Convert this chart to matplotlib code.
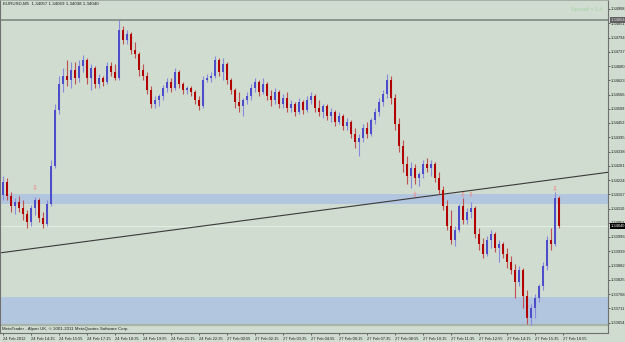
import matplotlib
matplotlib.use('Agg')
import matplotlib.pyplot as plt

plt.rcParams['font.family'] = ['Liberation Sans', 'DejaVu Sans']

# ---------------- data (EURUSD candles) ----------------
opens = [1.34164, 1.34216, 1.34160, 1.34120, 1.34136, 1.34112, 1.34088, 1.34056, 1.34112, 1.34144,
         1.34072, 1.34048, 1.34128, 1.34280, 1.34504, 1.34608, 1.34640, 1.34624, 1.34664, 1.34632,
         1.34680, 1.34704, 1.34632, 1.34672, 1.34608, 1.34632, 1.34616, 1.34680, 1.34656, 1.34632,
         1.34824, 1.34784, 1.34808, 1.34744, 1.34728, 1.34664, 1.34640, 1.34584, 1.34528, 1.34544,
         1.34560, 1.34592, 1.34616, 1.34592, 1.34656, 1.34608, 1.34584, 1.34592, 1.34576, 1.34544,
         1.34520, 1.34624, 1.34632, 1.34640, 1.34704, 1.34656, 1.34688, 1.34624, 1.34584, 1.34536,
         1.34520, 1.34544, 1.34560, 1.34592, 1.34616, 1.34576, 1.34608, 1.34560, 1.34544, 1.34576,
         1.34528, 1.34552, 1.34512, 1.34528, 1.34496, 1.34536, 1.34504, 1.34544, 1.34560, 1.34512,
         1.34496, 1.34520, 1.34480, 1.34496, 1.34456, 1.34480, 1.34440, 1.34456, 1.34408, 1.34376,
         1.34392, 1.34432, 1.34408, 1.34464, 1.34496, 1.34536, 1.34568, 1.34624, 1.34552, 1.34448,
         1.34360, 1.34288, 1.34240, 1.34272, 1.34232, 1.34248, 1.34288, 1.34272, 1.34288, 1.34232,
         1.34184, 1.34120, 1.34040, 1.33984, 1.34024, 1.34120, 1.34064, 1.34096, 1.34112, 1.34008,
         1.33968, 1.33928, 1.33984, 1.34008, 1.33952, 1.33968, 1.33928, 1.33896, 1.33864, 1.33816,
         1.33864, 1.33760, 1.33672, 1.33712, 1.33752, 1.33800, 1.33880, 1.33984, 1.33968, 1.34152]
highs = [1.34240, 1.34232, 1.34176, 1.34152, 1.34160, 1.34144, 1.34104, 1.34124, 1.34156, 1.34152,
         1.34096, 1.34144, 1.34304, 1.34528, 1.34640, 1.34672, 1.34704, 1.34696, 1.34696, 1.34704,
         1.34724, 1.34712, 1.34688, 1.34680, 1.34648, 1.34640, 1.34696, 1.34696, 1.34688, 1.34864,
         1.34840, 1.34824, 1.34816, 1.34776, 1.34736, 1.34688, 1.34656, 1.34600, 1.34560, 1.34568,
         1.34604, 1.34632, 1.34632, 1.34672, 1.34664, 1.34616, 1.34600, 1.34600, 1.34584, 1.34560,
         1.34640, 1.34648, 1.34656, 1.34720, 1.34712, 1.34712, 1.34696, 1.34632, 1.34592, 1.34576,
         1.34552, 1.34576, 1.34608, 1.34632, 1.34624, 1.34632, 1.34616, 1.34584, 1.34592, 1.34584,
         1.34568, 1.34576, 1.34544, 1.34536, 1.34552, 1.34544, 1.34560, 1.34576, 1.34568, 1.34544,
         1.34528, 1.34528, 1.34512, 1.34504, 1.34496, 1.34488, 1.34472, 1.34464, 1.34432, 1.34408,
         1.34448, 1.34456, 1.34472, 1.34512, 1.34552, 1.34584, 1.34648, 1.34640, 1.34568, 1.34472,
         1.34384, 1.34320, 1.34296, 1.34288, 1.34256, 1.34304, 1.34312, 1.34304, 1.34296, 1.34256,
         1.34200, 1.34144, 1.34104, 1.34040, 1.34128, 1.34152, 1.34112, 1.34136, 1.34120, 1.34032,
         1.33992, 1.34000, 1.34024, 1.34016, 1.33984, 1.33976, 1.33952, 1.33920, 1.33888, 1.33880,
         1.33872, 1.33784, 1.33728, 1.33768, 1.33808, 1.33896, 1.34000, 1.34032, 1.34176, 1.34160]
lows = [1.34144, 1.34144, 1.34096, 1.34088, 1.34096, 1.34064, 1.34032, 1.34040, 1.34084, 1.34056,
        1.34032, 1.34040, 1.34120, 1.34272, 1.34488, 1.34576, 1.34600, 1.34592, 1.34608, 1.34616,
        1.34656, 1.34608, 1.34584, 1.34592, 1.34592, 1.34600, 1.34608, 1.34640, 1.34624, 1.34624,
        1.34768, 1.34768, 1.34728, 1.34712, 1.34640, 1.34624, 1.34568, 1.34512, 1.34512, 1.34520,
        1.34544, 1.34576, 1.34576, 1.34584, 1.34592, 1.34568, 1.34568, 1.34560, 1.34528, 1.34504,
        1.34512, 1.34616, 1.34616, 1.34632, 1.34640, 1.34624, 1.34608, 1.34568, 1.34512, 1.34496,
        1.34480, 1.34528, 1.34544, 1.34576, 1.34560, 1.34568, 1.34544, 1.34520, 1.34528, 1.34512,
        1.34512, 1.34496, 1.34496, 1.34480, 1.34488, 1.34488, 1.34496, 1.34528, 1.34496, 1.34480,
        1.34472, 1.34464, 1.34456, 1.34440, 1.34448, 1.34424, 1.34424, 1.34392, 1.34352, 1.34320,
        1.34376, 1.34392, 1.34400, 1.34448, 1.34480, 1.34520, 1.34552, 1.34528, 1.34424, 1.34336,
        1.34256, 1.34208, 1.34192, 1.34208, 1.34200, 1.34232, 1.34256, 1.34240, 1.34216, 1.34168,
        1.34104, 1.34024, 1.33968, 1.33960, 1.34016, 1.34048, 1.34048, 1.34072, 1.33992, 1.33944,
        1.33912, 1.33920, 1.33952, 1.33936, 1.33896, 1.33912, 1.33872, 1.33848, 1.33752, 1.33800,
        1.33712, 1.33648, 1.33644, 1.33672, 1.33736, 1.33784, 1.33864, 1.33944, 1.33960, 1.34032]
closes = [1.34216, 1.34160, 1.34120, 1.34136, 1.34112, 1.34088, 1.34056, 1.34112, 1.34144, 1.34072,
          1.34048, 1.34128, 1.34280, 1.34504, 1.34608, 1.34640, 1.34624, 1.34664, 1.34632, 1.34680,
          1.34704, 1.34632, 1.34672, 1.34608, 1.34632, 1.34616, 1.34680, 1.34656, 1.34632, 1.34824,
          1.34784, 1.34808, 1.34744, 1.34728, 1.34664, 1.34640, 1.34584, 1.34528, 1.34544, 1.34560,
          1.34592, 1.34616, 1.34592, 1.34656, 1.34608, 1.34584, 1.34592, 1.34576, 1.34544, 1.34520,
          1.34624, 1.34632, 1.34640, 1.34704, 1.34656, 1.34688, 1.34624, 1.34584, 1.34536, 1.34520,
          1.34544, 1.34560, 1.34592, 1.34616, 1.34576, 1.34608, 1.34560, 1.34544, 1.34576, 1.34528,
          1.34552, 1.34512, 1.34528, 1.34496, 1.34536, 1.34504, 1.34544, 1.34560, 1.34512, 1.34496,
          1.34520, 1.34480, 1.34496, 1.34456, 1.34480, 1.34440, 1.34456, 1.34408, 1.34376, 1.34392,
          1.34432, 1.34408, 1.34464, 1.34496, 1.34536, 1.34568, 1.34624, 1.34552, 1.34448, 1.34360,
          1.34288, 1.34240, 1.34272, 1.34232, 1.34248, 1.34288, 1.34272, 1.34288, 1.34232, 1.34184,
          1.34120, 1.34040, 1.33984, 1.34024, 1.34120, 1.34064, 1.34096, 1.34112, 1.34008, 1.33968,
          1.33928, 1.33984, 1.34008, 1.33952, 1.33968, 1.33928, 1.33896, 1.33864, 1.33816, 1.33864,
          1.33760, 1.33672, 1.33712, 1.33752, 1.33800, 1.33880, 1.33984, 1.33968, 1.34152, 1.34040]

time_labels = ["24 Feb 2012", "24 Feb 14:15", "24 Feb 15:55", "24 Feb 17:15", "24 Feb 18:35",
               "24 Feb 19:55", "24 Feb 21:15", "24 Feb 22:35", "27 Feb 00:55", "27 Feb 02:15",
               "27 Feb 03:35", "27 Feb 04:55", "27 Feb 06:15", "27 Feb 07:35", "27 Feb 08:55",
               "27 Feb 10:15", "27 Feb 11:35", "27 Feb 12:55", "27 Feb 14:15", "27 Feb 15:35",
               "27 Feb 16:55"]
time_label_bars = [0, 7, 14, 21, 28, 35, 42, 49, 56, 63, 70, 77, 84, 91, 98, 105, 112, 119, 126, 133, 140]

price_ticks = [1.34908, 1.34851, 1.34794, 1.34737, 1.34680, 1.34623, 1.34566, 1.34509, 1.34452,
               1.34395, 1.34338, 1.34281, 1.34224, 1.34167, 1.34110, 1.34053, 1.33996, 1.33939,
               1.33882, 1.33825, 1.33768, 1.33711, 1.33654]

header_text = "EURUSD,M5  1.34057 1.34069 1.34038 1.34040"
spread_text = "Spread = 1.4"
copyright_text = "MetaTrader - Alpari UK, \u00a9 2001-2011 MetaQuotes Software Corp."

top_line = 1.34864          # horizontal line at the high
low_line = 1.33644          # horizontal line at the low
bid_price = 1.34040
zone_upper = (1.34128, 1.34168)
zone_lower = (1.33640, 1.33756)
trend_p1 = (0, 1.33934)
trend_p2 = (132, 1.34214)

fractal_up_bars = [8, 115, 117, 138]
fractal_up_prices = [1.34192, 1.34164, 1.34164, 1.34188]
fractal_dn_bars = [103]
fractal_dn_prices = [1.34164]

# ---------------- drawing ----------------
BG = '#cfdccf'
W, H = 625, 342
fig = plt.figure(figsize=(W / 100, H / 100), dpi=100, facecolor=BG)
ax = fig.add_axes([0, 9 / H, 608 / W, 333 / H], facecolor=BG)

n = len(closes)
idx = list(range(n))

ax.axhspan(*zone_upper, color='#b3c6df', zorder=0.5, lw=0)
ax.axhspan(*zone_lower, color='#b3c6df', zorder=0.5, lw=0)
ax.axhline(top_line, color='#7c8a80', lw=1.2, zorder=1)
ax.axhline(low_line, color='#a8b4a8', lw=1.6, zorder=1)
ax.axhline(bid_price, color='#e6f2e6', lw=0.6, zorder=1)
ax.axline(trend_p1, trend_p2, color='#3a3a3a', lw=0.8, zorder=2)

bull = [c >= o for o, c in zip(opens, closes)]
body_col = ['#4d4dcc' if b else '#b00000' for b in bull]
wick_col = ['#8888dd' if b else '#c05050' for b in bull]
ax.vlines(idx, lows, highs, colors=wick_col, lw=0.8, zorder=3)
heights = [max(abs(c - o), 0.00002) for o, c in zip(opens, closes)]
bottoms = [min(o, c) for o, c in zip(opens, closes)]
ax.bar(idx, heights, bottom=bottoms, width=0.62, color=body_col, lw=0, zorder=4)

for b, p in zip(fractal_up_bars, fractal_up_prices):
    ax.text(b, p, "\u21e9", color='#f08080', fontsize=5, ha='center', va='center', zorder=5,
            family='DejaVu Sans')
for b, p in zip(fractal_dn_bars, fractal_dn_prices):
    ax.text(b, p, "\u21e7", color='#f08080', fontsize=5, ha='center', va='center', zorder=5,
            family='DejaVu Sans')

ax.set_xlim(-0.75, 151.25)
ax.set_ylim(1.33612, 1.34944)

# axes / ticks
ax.yaxis.tick_right()
ax.set_yticks(price_ticks)
ax.set_yticklabels([f"{v:.5f}" for v in price_ticks])
ax.set_xticks(time_label_bars)
ax.set_xticklabels(time_labels)
for lab in ax.get_xticklabels():
    lab.set_horizontalalignment('left')
ax.tick_params(axis='both', labelsize=2.9, length=1.5, width=0.5, pad=0.6, colors='#303030',
               labelcolor='#202020')
ax.tick_params(axis='x', pad=1.2)
for s in ['left', 'right', 'bottom']:
    ax.spines[s].set_color('#707070')
    ax.spines[s].set_linewidth(0.8)
ax.spines['top'].set_color('#a0a8a0')
ax.spines['top'].set_linewidth(0.6)

ax.text(3 / 608, 1 - 4 / 333, header_text, transform=ax.transAxes, fontsize=3.2,
        va='center', ha='left', color='#202020')
ax.text(603 / 608, 1 - 10 / 333, spread_text, transform=ax.transAxes, fontsize=4,
        va='center', ha='right', color='#a6d4a6')
ax.text(2 / 608, 4 / 333, copyright_text, transform=ax.transAxes, fontsize=3.2,
        va='center', ha='left', color='#202020')

ytr = ax.get_yaxis_transform()
ax.text(1.004, bid_price, f"{bid_price:.5f}", transform=ytr, fontsize=2.9, va='center',
        ha='left', color='white', clip_on=False, zorder=10,
        bbox=dict(boxstyle='square,pad=0.2', fc='black', ec='none'))
ax.text(1.004, top_line, f"{top_line:.5f}", transform=ytr, fontsize=2.9, va='center',
        ha='left', color='#e0e0e0', clip_on=False, zorder=10,
        bbox=dict(boxstyle='square,pad=0.2', fc='#606060', ec='none'))

fig.savefig('out.png', dpi=100, facecolor=BG)
